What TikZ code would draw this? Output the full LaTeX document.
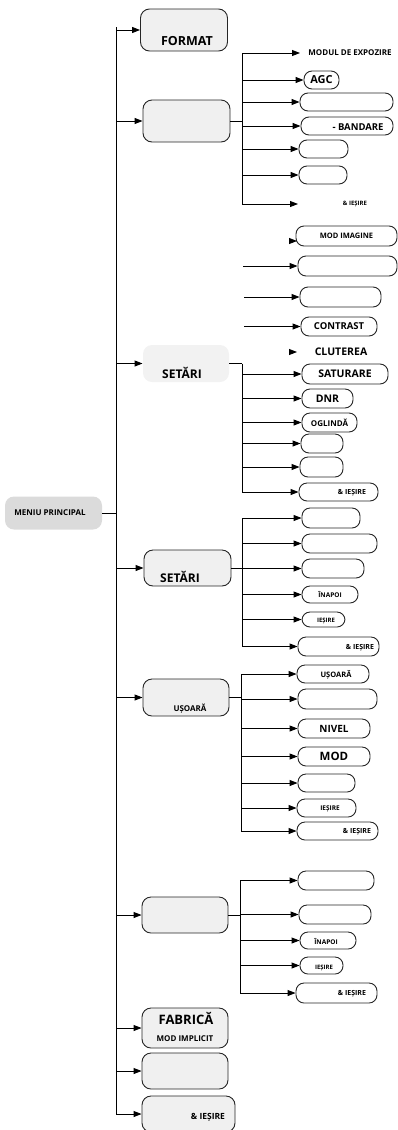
\documentclass[tikz,border=0pt]{standalone}
\usepackage{fontspec}
\setmainfont{Open Sans}
\usetikzlibrary{arrows.meta}
\begin{document}
\begin{tikzpicture}[x=1pt,y=-1pt,line width=0.9pt,
	arr/.style={-{Triangle[length=8pt,width=6pt]}},
	fz/.style={font=\bfseries\fontsize{#1}{#1}\selectfont},
	topbox/.style={draw=black!85,fill=black!6,rounded corners=9pt,inner sep=0pt,minimum width=86pt},
	subbox/.style={draw=black!85,fill=white,rounded corners=8pt,inner sep=0pt},
	lbl/.style={inner sep=0pt}]
	\useasboundingbox (0,0) rectangle (398,1130);
	\node[fill=black!14,rounded corners=9pt,minimum width=97pt,minimum height=33pt] (meniu) at (53.5,513) {};
	\node[lbl,fz=8] at (50,513) {MENIU PRINCIPAL};
	\coordinate (trtop) at (116,27);
	\coordinate (trbot) at (116,1114);
	\draw (meniu.east) -- (meniu.east -| trtop);
	\draw (trtop) -- (trbot);
	\node[topbox,minimum width=87pt,minimum height=42pt] (fmt) at (184,30) {};
	\node[lbl,fz=12.5] at (187,41) {FORMAT};
	\node[topbox,minimum width=87pt,minimum height=42pt] (expu) at (186.5,121) {};
	\node[topbox,draw=none,fill=black!5,minimum height=37pt] (set1) at (186,363.5) {};
	\node[lbl,fz=12] at (182,373) {SETĂRI};
	\node[topbox,minimum width=87pt,minimum height=36pt] (set2) at (187.5,568) {};
	\node[lbl,fz=12] at (180,577) {SETĂRI};
	\node[topbox,minimum height=37pt] (usor) at (186,697.5) {};
	\node[lbl,fz=8] at (190,709) {UȘOARĂ};
	\node[topbox,minimum height=36pt] (gol6) at (185,915) {};
	\node[topbox,minimum height=40pt] (fab) at (185,1028) {};
	\node[lbl,fz=13] at (186,1018) {FABRICĂ};
	\node[lbl,fz=8] at (185,1039) {MOD IMPLICIT};
	\node[topbox,minimum height=36pt] (gol8) at (185,1071) {};
	\node[topbox,minimum width=93pt,minimum height=36pt] (ies9) at (188.5,1114) {};
	\node[lbl,fz=8.5] at (208,1117) {\& IEȘIRE};
	\foreach \n in {fmt,expu,set1,set2,usor,gol6,fab,gol8,ies9}
		\draw[arr] (trtop |- \n.west) -- (\n.west);
	\coordinate (s2a) at (242,53);
	\coordinate (s2b) at (242,204);
	\draw (expu.east) -- (expu.east -| s2a);
	\draw (s2a) -- (s2b);
	\node[lbl,fz=8] (expo) at (350,53) {MODUL DE EXPOZIRE};
	\coordinate (expotip) at (300,53);
	\draw[arr] (s2a) -- (expotip);
	\node[subbox,minimum width=35pt,minimum height=18pt,fz=11] (agc) at (321.5,80) {AGC};
	\node[subbox,minimum width=93pt,minimum height=18pt] (c23) at (346.5,102) {};
	\node[subbox,minimum width=92pt,minimum height=18pt] (band) at (347,126) {};
	\node[lbl,fz=9.5] at (358,127) {- BANDARE};
	\node[subbox,minimum width=49pt,minimum height=18pt] (c25) at (323.5,149) {};
	\node[subbox,minimum width=48pt,minimum height=18pt] (c26) at (323,175) {};
	\node[lbl,fz=6] (ies2) at (355,204) {\& IEȘIRE};
	\coordinate (ies2tip) at (298,204);
	\foreach \n in {agc,c23,band,c25,c26}
		\draw[arr] (s2a |- \n.west) -- (\n.west);
	\draw[arr] (s2b) -- (ies2tip);
	\node[subbox,minimum width=101pt,minimum height=20pt,fz=7.5] (modimg) at (346.5,236) {MOD IMAGINE};
	\coordinate (mia) at (289,241);
	\coordinate (mib) at (297,241);
	\draw[arr] (mia) -- (mib);
	\node[subbox,minimum width=99pt,minimum height=20pt] (c32) at (347.5,266) {};
	\node[subbox,minimum width=81pt,minimum height=20pt] (c33) at (340.5,297) {};
	\node[subbox,minimum width=76pt,minimum height=19pt,fz=9.5] (contr) at (339,326.5) {CONTRAST};
	\coordinate (f32) at (243,266);
	\coordinate (f33) at (244,297);
	\coordinate (f34) at (244,326.5);
	\draw[arr] (f32) -- (c32.west);
	\draw[arr] (f33) -- (c33.west);
	\draw[arr] (f34) -- (contr.west);
	\node[lbl,fz=10.5] (clut) at (341,352) {CLUTEREA};
	\coordinate (cla) at (289,352);
	\coordinate (clb) at (297,352);
	\draw[arr] (cla) -- (clb);
	\coordinate (s3a) at (242,366);
	\coordinate (s3b) at (242,492);
	\draw (set1.east) -- (set1.east -| s3a);
	\draw (set1.east -| s3a) -- (s3b);
	\node[subbox,minimum width=86pt,minimum height=20pt,fz=10.5] (satur) at (345,374) {SATURARE};
	\node[subbox,minimum width=51pt,minimum height=19pt,fz=10.5] (dnr) at (327.5,398.5) {DNR};
	\node[subbox,minimum width=55pt,minimum height=19pt,fz=8] (ogl) at (329.5,422.5) {OGLINDĂ};
	\node[subbox,minimum width=42pt,minimum height=19pt] (c39) at (322,443.5) {};
	\node[subbox,minimum width=43pt,minimum height=20pt] (c310) at (321.5,467) {};
	\node[subbox,minimum width=79pt,minimum height=18pt] (ies3) at (338.5,492) {};
	\node[lbl,fz=7] at (352,493) {\& IEȘIRE};
	\foreach \n in {satur,dnr,ogl,c39,c310,ies3}
		\draw[arr] (s3a |- \n.west) -- (\n.west);
	\coordinate (s4a) at (242,518);
	\coordinate (s4b) at (242,646.5);
	\draw (set2.east) -- (set2.east -| s4a);
	\draw (s4a) -- (s4b);
	\node[subbox,minimum width=58pt,minimum height=20pt] (c41) at (331,518) {};
	\node[subbox,minimum width=75pt,minimum height=19pt] (c42) at (339.5,543.5) {};
	\node[subbox,minimum width=62pt,minimum height=19pt] (c43) at (333,568.5) {};
	\node[subbox,minimum width=56pt,minimum height=17pt,fz=6.5] (inap4) at (330,594.5) {ÎNAPOI};
	\node[subbox,minimum width=43pt,minimum height=15pt] (ies4) at (323.5,619.5) {};
	\node[lbl,fz=6] at (326,621) {IEȘIRE};
	\node[subbox,minimum width=81pt,minimum height=19pt] (amp4) at (338.5,646.5) {};
	\node[lbl,fz=7] at (360,648) {\& IEȘIRE};
	\foreach \n in {c41,c42,c43,inap4,ies4,amp4}
		\draw[arr] (s4a |- \n.west) -- (\n.west);
	\coordinate (s5a) at (241,674);
	\coordinate (s5b) at (241,831);
	\draw (usor.east) -- (usor.east -| s5a);
	\draw (s5a) -- (s5b);
	\node[subbox,minimum width=72pt,minimum height=18pt] (us5) at (333,674) {};
	\node[lbl,fz=7.5] at (336,675) {UȘOARĂ};
	\node[subbox,minimum width=79pt,minimum height=20pt] (c52) at (337.5,699) {};
	\node[subbox,minimum width=72pt,minimum height=19pt,fz=10] (nivel) at (334,728.5) {NIVEL};
	\node[subbox,minimum width=72pt,minimum height=19pt,fz=11.5] (modn) at (334,756.5) {MOD};
	\node[subbox,minimum width=57pt,minimum height=18pt] (c55) at (326.5,783) {};
	\node[subbox,minimum width=59pt,minimum height=18pt] (ies5) at (326.5,808) {};
	\node[lbl,fz=6.5] at (330,809) {IEȘIRE};
	\node[subbox,minimum width=81pt,minimum height=18pt] (amp5) at (337.5,831) {};
	\node[lbl,fz=7] at (357,832) {\& IEȘIRE};
	\foreach \n in {us5,c52,nivel,modn,c55,ies5,amp5}
		\draw[arr] (s5a |- \n.west) -- (\n.west);
	\coordinate (s6a) at (240,880.5);
	\coordinate (s6b) at (240,993);
	\draw (gol6.east) -- (gol6.east -| s6a);
	\draw (s6a) -- (s6b);
	\node[subbox,minimum width=76pt,minimum height=19pt] (c61) at (336,880.5) {};
	\node[subbox,minimum width=72pt,minimum height=19pt] (c62) at (335,914.5) {};
	\node[subbox,minimum width=56pt,minimum height=17pt] (inap6) at (328,940.5) {};
	\node[lbl,fz=6.5] at (326,941) {ÎNAPOI};
	\node[subbox,minimum width=43pt,minimum height=17pt] (ies6) at (321.5,965.5) {};
	\node[lbl,fz=6] at (324,968) {IEȘIRE};
	\node[subbox,minimum width=81pt,minimum height=20pt] (amp6) at (336.5,993) {};
	\node[lbl,fz=7] at (352,994) {\& IEȘIRE};
	\foreach \n in {c61,c62,inap6,ies6,amp6}
		\draw[arr] (s6a |- \n.west) -- (\n.west);
\end{tikzpicture}
\end{document}
